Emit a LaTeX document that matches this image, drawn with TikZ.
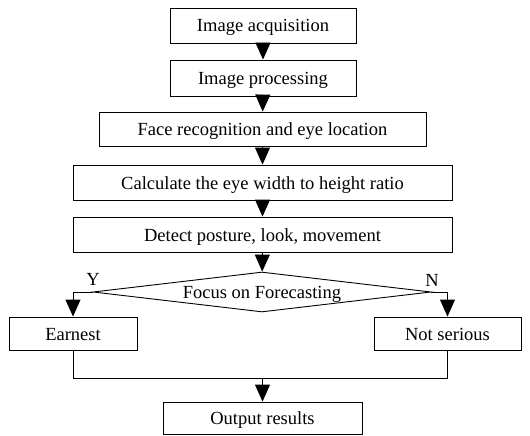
\documentclass[tikz,border=0pt]{standalone}
\usepackage{fontspec}
\setmainfont{Liberation Serif}
\usetikzlibrary{shapes.geometric,arrows.meta}

\tikzset{
  x=1pt, y=-1pt,
  every node/.style={font=\fontsize{18.5}{20}\selectfont},
  procbox/.style={draw, line width=0.9pt, rectangle, inner sep=0pt,
                  text height=13pt, text depth=0pt, minimum height=#1},
  procbox/.default=35pt,
  decision/.style={draw, line width=0.9pt, diamond, inner sep=0pt, aspect=8.45,
                   text height=13pt, text depth=0pt,
                   minimum width=338pt, minimum height=40pt},
  flow/.style={line width=0.9pt, -{Triangle[length=17pt, width=15pt]}},
  link/.style={line width=0.9pt},
  tag/.style={inner sep=0pt}
}

\begin{document}
\begin{tikzpicture}
\useasboundingbox (0,0) rectangle (530,436);

% processing chain
\node[procbox, minimum width=186pt] (acq)  at (263,25.5)  {Image acquisition};
\node[procbox=36pt, minimum width=186pt] (proc) at (263,78) {Image processing};
\node[procbox=34pt, minimum width=327pt] (face) at (262.5,129) {Face recognition and eye location};
\node[procbox, minimum width=379pt] (ratio) at (262.5,182.5) {Calculate the eye width to height ratio};
\node[procbox, minimum width=379pt] (post)  at (262.5,234.5) {Detect posture, look, movement};

% decision
\node[decision] (dec) at (262,292) {Focus on Forecasting};

% outcomes
\node[procbox=33pt, minimum width=128pt] (earn) at (73,333.5) {Earnest};
\node[procbox=33pt, minimum width=147pt] (nots) at (447.5,333.5) {Not serious};
\node[procbox=32pt, minimum width=199pt] (out)  at (262.5,418) {Output results};

% branch labels
\node[tag] (yes) at (93,279) {Y};
\node[tag] (no)  at (432,280) {N};

% arrows down the chain
\draw[flow] (acq) -- (proc);
\draw[flow] (proc) -- (face);
\draw[flow] (face) -- (ratio);
\draw[flow] (ratio) -- (post);
\draw[flow] (post) -- (dec);

% decision branches
\draw[flow] (dec.west) -| (earn.north);
\draw[flow] (dec.east) -| (nots.north);

% merge into output
\coordinate (mergeL) at (73,378);
\coordinate (mergeR) at (447.5,378);
\coordinate (mergeC) at (262.5,378);
\draw[link] (earn.south) -- (mergeL) -- (mergeR) -- (nots.south);
\draw[flow] (mergeC) -- (out.north);
\end{tikzpicture}
\end{document}
